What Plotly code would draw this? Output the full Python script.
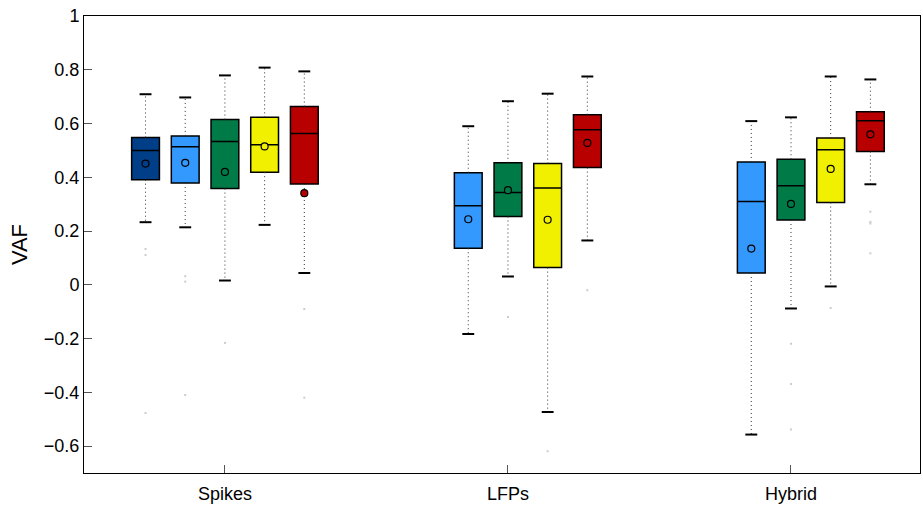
import plotly.graph_objects as go

# ---------------- data ----------------
groups = ["Spikes", "LFPs", "Hybrid"]
group_centers = [0.0, 7.13, 14.26]

box_group = [0, 0, 0, 0, 0, 1, 1, 1, 1, 2, 2, 2, 2]
box_slot = [-2, -1, 0, 1, 2, -1, 0, 1, 2, -1, 0, 1, 2]
box_color = ["#003F88", "#3399FF", "#007A47", "#F0F000", "#B80000",
             "#3399FF", "#007A47", "#F0F000", "#B80000",
             "#3399FF", "#007A47", "#F0F000", "#B80000"]

q1 = [0.391, 0.379, 0.358, 0.419, 0.375,
      0.136, 0.254, 0.064, 0.436,
      0.044, 0.241, 0.306, 0.496]
median = [0.500, 0.514, 0.533, 0.521, 0.563,
          0.294, 0.343, 0.360, 0.577,
          0.310, 0.369, 0.502, 0.610]
q3 = [0.548, 0.554, 0.615, 0.623, 0.663,
      0.417, 0.454, 0.451, 0.633,
      0.457, 0.467, 0.546, 0.644]
lower = [0.233, 0.214, 0.016, 0.223, 0.044,
         -0.183, 0.031, -0.473, 0.165,
         -0.557, -0.088, -0.006, 0.374]
upper = [0.709, 0.697, 0.779, 0.808, 0.794,
         0.590, 0.683, 0.711, 0.775,
         0.609, 0.623, 0.775, 0.764]
mean = [0.451, 0.454, 0.420, 0.515, 0.341,
        0.244, 0.352, 0.242, 0.528,
        0.135, 0.301, 0.431, 0.560]
outliers = [[0.133, 0.111, -0.477], [0.032, 0.012, -0.41], [-0.216], [], [-0.09, -0.42],
            [], [-0.12], [-0.619], [-0.02],
            [], [-0.219, -0.369, -0.538], [-0.086], [0.272, 0.234, 0.228, 0.117]]

y_ticks = [-0.6, -0.4, -0.2, 0, 0.2, 0.4, 0.6, 0.8, 1]

# ---------------- figure ----------------
BOX_W = 0.70
CAP_W = 0.30
pos = [group_centers[g] + s for g, s in zip(box_group, box_slot)]

fig = go.Figure()

# whiskers (dotted)
wx, wy = [], []
for p, a, b, lo, hi in zip(pos, q1, q3, lower, upper):
    wx += [p, p, None, p, p, None]
    wy += [b, hi, None, a, lo, None]
fig.add_trace(go.Scatter(x=wx, y=wy, mode="lines",
                         line=dict(color="#333333", width=1, dash="1px,3px"),
                         hoverinfo="skip"))

# caps
cx, cy = [], []
for p, lo, hi in zip(pos, lower, upper):
    cx += [p - CAP_W / 2, p + CAP_W / 2, None, p - CAP_W / 2, p + CAP_W / 2, None]
    cy += [hi, hi, None, lo, lo, None]
fig.add_trace(go.Scatter(x=cx, y=cy, mode="lines",
                         line=dict(color="black", width=2), hoverinfo="skip"))

# boxes
for i, p in enumerate(pos):
    fig.add_trace(go.Box(x=[p], q1=[q1[i]], median=[median[i]], q3=[q3[i]],
                         lowerfence=[q1[i]], upperfence=[q3[i]],
                         width=BOX_W, whiskerwidth=0,
                         fillcolor=box_color[i],
                         line=dict(color="black", width=1.5),
                         boxpoints=False, hoverinfo="skip"))

# outliers
ox, oy = [], []
for p, outs in zip(pos, outliers):
    for v in outs:
        ox.append(p)
        oy.append(v)
fig.add_trace(go.Scatter(x=ox, y=oy, mode="markers",
                         marker=dict(symbol="square", size=2, color="#cccccc"),
                         hoverinfo="skip"))

# means
fig.add_trace(go.Scatter(x=pos, y=mean, mode="markers",
                         marker=dict(symbol="circle", size=7, color=box_color,
                                     line=dict(color="black", width=1.2)),
                         hoverinfo="skip"))

fig.update_layout(
    width=923, height=506,
    margin=dict(l=84, r=2, t=16, b=31),
    paper_bgcolor="white", plot_bgcolor="white",
    showlegend=False,
    font=dict(family="Liberation Sans, Arial, sans-serif", size=18, color="black"),
    boxmode="overlay",
)
fig.update_xaxes(range=[-3.55, 17.51], tickvals=group_centers, ticktext=groups,
                 ticks="inside", ticklen=8, tickcolor="#555555", tickwidth=1,
                 showline=True, linecolor="black", linewidth=1, mirror=True,
                 showgrid=False, zeroline=False, ticklabelstandoff=4)
fig.update_yaxes(range=[-0.7, 1.0], tickvals=y_ticks,
                 ticks="inside", ticklen=8, tickcolor="#555555", tickwidth=1,
                 showline=True, linecolor="black", linewidth=1, mirror=True,
                 showgrid=False, zeroline=False,
                 title=dict(text="VAF", standoff=10))

fig.write_html("out.html")
